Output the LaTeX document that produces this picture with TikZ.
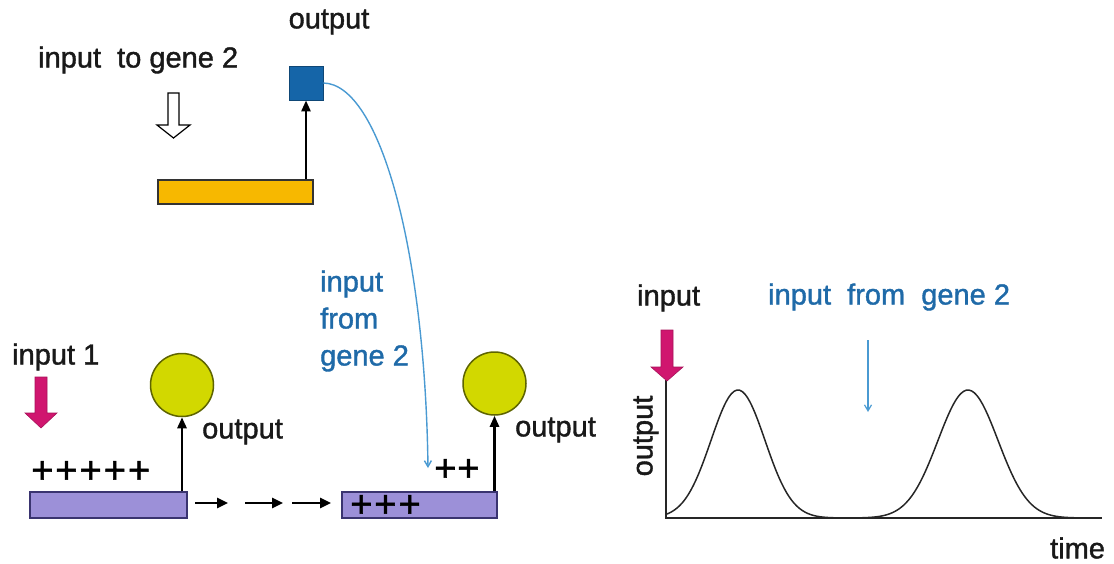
\documentclass[tikz,border=0pt]{standalone}
\usepackage{fontspec}
\setmainfont{Liberation Sans}
\newfontfamily\hv[FakeBold=1.3]{Liberation Sans}
\newfontfamily\hvb[FakeBold=1.5]{Liberation Sans}
\usetikzlibrary{arrows.meta}
\definecolor{tblue}{HTML}{1F6AA8}
\definecolor{cblue}{HTML}{4A9AD2}
\definecolor{sqblue}{HTML}{1565A8}
\definecolor{orangebar}{HTML}{F7B800}
\definecolor{ycirc}{HTML}{D2D800}
\definecolor{ycircb}{HTML}{5E6400}
\definecolor{pbar}{HTML}{9C90D8}
\definecolor{pbarb}{HTML}{3A3470}
\definecolor{magenta2}{HTML}{D0166F}
\begin{document}
\begin{tikzpicture}[x=1pt,y=-1pt,
  lbl/.style={font=\hv\fontsize{29}{37}\selectfont, inner sep=0pt, text=black!90},
  blbl/.style={lbl, text=tblue},
  pluslbl/.style={font=\hvb\fontsize{38}{40}\selectfont, inner sep=0pt},
  barbox/.style={draw=pbarb, line width=1.5pt, fill=pbar, inner sep=0pt, minimum width=157pt, minimum height=26pt},
  gcirc/.style={circle, draw=ycircb, line width=1.5pt, fill=ycirc, inner sep=0pt, minimum size=63pt},
  blk/.style={line width=2.5pt, -{Triangle[length=11pt,width=9pt]}},
  smallarr/.style={line width=2.5pt, -{Triangle[length=11pt,width=10pt]}},
  bluearr/.style={draw=cblue, line width=1.4pt, -{Straight Barb[length=6pt,width=7pt]}},
  magarrow/.style={fill=magenta2, draw=magenta2!80!black, line width=0.6pt},
  axis/.style={line width=2pt, draw=black!85},
  curve/.style={line width=1.5pt, draw=black!85}
]
\useasboundingbox (0,0) rectangle (1114,563);

% ---------------- gene 2 (top) ----------------
\node[lbl] (out2lbl) at (329,22) {output};
\node[lbl, anchor=west] (in2lbl) at (38,60) {input\ \ to gene 2};
\draw[line width=1.2pt, fill=white] (168,93) -- (179,93) -- (179,125) -- (190,125) -- (173.5,138) -- (157,125) -- (168,125) -- cycle;
\node[draw=black!80, line width=1.5pt, fill=orangebar, inner sep=0pt, minimum width=155pt, minimum height=24pt] (obar) at (235.5,192) {};
\node[draw=sqblue!70!black, line width=0.8pt, fill=sqblue, inner sep=0pt, minimum size=34pt] (sq) at (306,83) {};
\draw[blk] (sq.south |- obar.north) -- (sq.south);

% ---------------- gene 1 (bottom left) ----------------
\node[lbl, anchor=west] (in1lbl) at (12,357) {input 1};
\draw[magarrow] (35,377) -- (47,377) -- (47,413) -- (57,413) -- (41,428) -- (25,413) -- (35,413) -- cycle;
\node[barbox] (bar1) at (108.5,505) {};
\node[gcirc] (c1) at (182,385) {};
\draw[blk] (c1.south |- bar1.north) -- (c1.south);
\node[lbl, anchor=west] (o1lbl) at (202,432) {output};
\node[pluslbl, anchor=west] (p1) at (31,472) {+\hspace{2pt}+\hspace{2pt}+\hspace{2pt}+\hspace{2pt}+};

% small arrows between the bars
\coordinate (a1s) at (195,503); \coordinate (a1e) at (228,503);
\coordinate (a2s) at (245,503); \coordinate (a2e) at (283,503);
\coordinate (a3s) at (292,503); \coordinate (a3e) at (331,503);
\draw[smallarr] (a1s) -- (a1e);
\draw[smallarr] (a2s) -- (a2e);
\draw[smallarr] (a3s) -- (a3e);

% ---------------- gene 1 later (bottom middle) ----------------
\node[barbox, minimum width=155pt] (bar2) at (419.5,505) {};
\node[pluslbl, anchor=west] (p2) at (350,506) {+\hspace{2pt}+\hspace{2pt}+};
\node[pluslbl, anchor=west] (p3) at (434,470) {+\hspace{1pt}+};
\node[gcirc] (c2) at (494.5,383.5) {};
\draw[blk] (c2.south |- bar2.north) -- (c2.south);
\node[lbl, anchor=west] (o2lbl) at (515,430) {output};
\node[blbl, anchor=west, align=left] (fromlbl) at (320,321) {input\\from\\gene 2};
\coordinate (ctip) at (428,468);
\draw[bluearr] (sq.east) .. controls (380,84) and (425,250) .. (ctip);

% ---------------- time course (right) ----------------
\node[lbl, anchor=west] (inglbl) at (637,298) {input};
\node[blbl, anchor=west] (fromglbl) at (768,297) {input\ \ from\ \ gene 2};
\coordinate (orig) at (666,518);
\coordinate (ytop) at (666,380);
\coordinate (xend) at (1102,518);
\draw[axis] (ytop) -- (orig) -- (xend);
\draw[magarrow] (661,330) -- (673,330) -- (673,367) -- (683,367) -- (667,381) -- (651,367) -- (661,367) -- cycle;
\node[lbl, rotate=90] (outglbl) at (646,436) {output};
\node[lbl, anchor=west] (timelbl) at (1050,548) {time};
\coordinate (gas) at (868,340); \coordinate (gae) at (868,412);
\draw[bluearr, line width=1.2pt] (gas) -- (gae);
\draw[curve] plot[domain=666:1100, samples=160, smooth]
  (\x, {518-128*(exp(max(-12,-0.5*((\x-738)/27)^2))+exp(max(-12,-0.5*((\x-968)/30)^2)))});
\end{tikzpicture}
\end{document}
